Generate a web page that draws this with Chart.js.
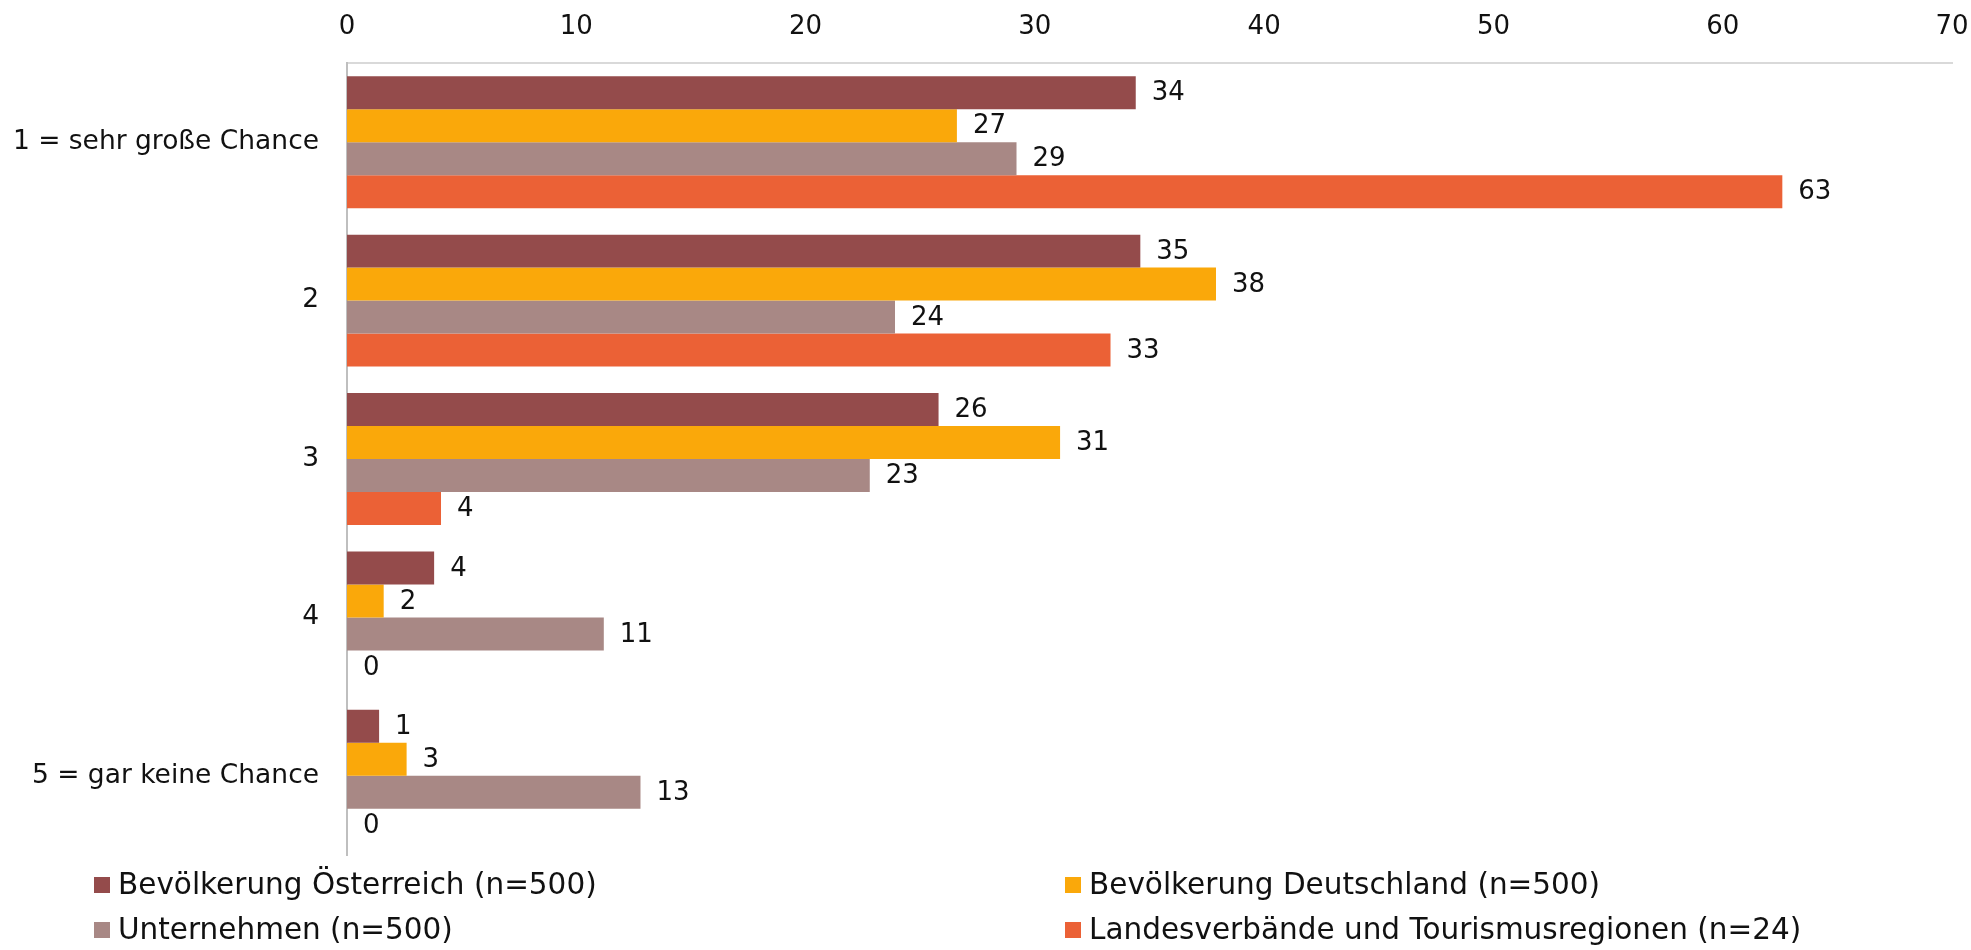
<!DOCTYPE html>
<html>
<head>
<meta charset="utf-8">
<script src="https://cdn.jsdelivr.net/npm/chart.js@4"></script>
<style>
  html, body { margin: 0; padding: 0; background: #fff; }
  #wrap { width: 1971px; height: 950px; }
</style>
</head>
<body>
<div id="wrap"><canvas id="barChart" width="1971" height="950"></canvas></div>
<script>
// categories (rating scale) and the four survey groups
const categories = ['1 = sehr große Chance', '2', '3', '4', '5 = gar keine Chance'];
const seriesLabels = [
    'Bevölkerung Österreich (n=500)',
    'Bevölkerung Deutschland (n=500)',
    'Unternehmen (n=500)',
    'Landesverbände und Tourismusregionen (n=24)',
];
const oesterreich = [34.4, 34.6, 25.8, 3.8, 1.4];
const deutschland = [26.6, 37.9, 31.1, 1.6, 2.6];
const unternehmen = [29.2, 23.9, 22.8, 11.2, 12.8];
const landesverbaende = [62.6, 33.3, 4.1, 0, 0];
const seriesColors = ['#944b4b', '#faa80a', '#a88885', '#eb6136'];
const xTicks = [0, 10, 20, 30, 40, 50, 60, 70];

const FONT = 'DejaVu Sans';
const TEXT = '#111';

// value labels right of each bar, rounded like the source
const valueLabels = {
    id: 'valueLabels',
    afterDatasetsDraw(chart) {
        const ctx = chart.ctx;
        ctx.save();
        ctx.font = '26px "' + FONT + '"';
        ctx.fillStyle = TEXT;
        ctx.textBaseline = 'middle';
        ctx.textAlign = 'left';
        chart.data.datasets.forEach((ds, i) => {
            chart.getDatasetMeta(i).data.forEach((bar, j) => {
                ctx.fillText(String(Math.round(ds.data[j])), bar.x + 16, bar.y + 1);
            });
        });
        ctx.restore();
    },
};

// two-column legend under the plot
const gridLegend = {
    id: 'gridLegend',
    afterDraw(chart) {
        const ctx = chart.ctx;
        const colX = [94, 1065];
        const rowY = [885, 930];
        ctx.save();
        ctx.font = '29.5px "' + FONT + '"';
        ctx.textBaseline = 'middle';
        chart.data.datasets.forEach((ds, i) => {
            const x = colX[i % 2], y = rowY[Math.floor(i / 2)];
            ctx.fillStyle = ds.backgroundColor;
            ctx.fillRect(x, y - 8, 16, 16);
            ctx.fillStyle = TEXT;
            ctx.fillText(ds.label, x + 24, y + 1);
        });
        ctx.restore();
    },
};

const seriesData = [oesterreich, deutschland, unternehmen, landesverbaende];

new Chart(document.getElementById('barChart'), {
    type: 'bar',
    data: {
        labels: categories,
        datasets: seriesData.map((d, i) => ({
            label: seriesLabels[i],
            data: d,
            backgroundColor: seriesColors[i],
            borderWidth: 0,
            categoryPercentage: 0.833,
            barPercentage: 1.0,
        })),
    },
    options: {
        indexAxis: 'y',
        responsive: false,
        animation: false,
        layout: { padding: { left: 0, right: 0, top: 0, bottom: 95 } },
        plugins: {
            legend: { display: false },
            tooltip: { enabled: false },
        },
        scales: {
            x: {
                position: 'top',
                min: 0,
                max: 70,
                afterBuildTicks: (scale) => { scale.ticks = xTicks.map((v) => ({ value: v })); },
                afterFit: (scale) => {
                    scale.height = 63;
                    scale.paddingLeft = 0;
                    scale.paddingRight = 19;
                },
                grid: { display: false, drawTicks: false },
                border: { display: true, color: '#d9d9d9', width: 2 },
                ticks: {
                    font: { family: FONT, size: 26 },
                    color: TEXT,
                    padding: 20,
                },
            },
            y: {
                afterFit: (scale) => { scale.width = 347; },
                grid: { display: false, drawTicks: false },
                border: { display: true, color: '#bfbfbf', width: 2 },
                ticks: {
                    font: { family: FONT, size: 26.5 },
                    color: TEXT,
                    padding: 28,
                },
            },
        },
    },
    plugins: [valueLabels, gridLegend],
});
</script>
</body>
</html>
